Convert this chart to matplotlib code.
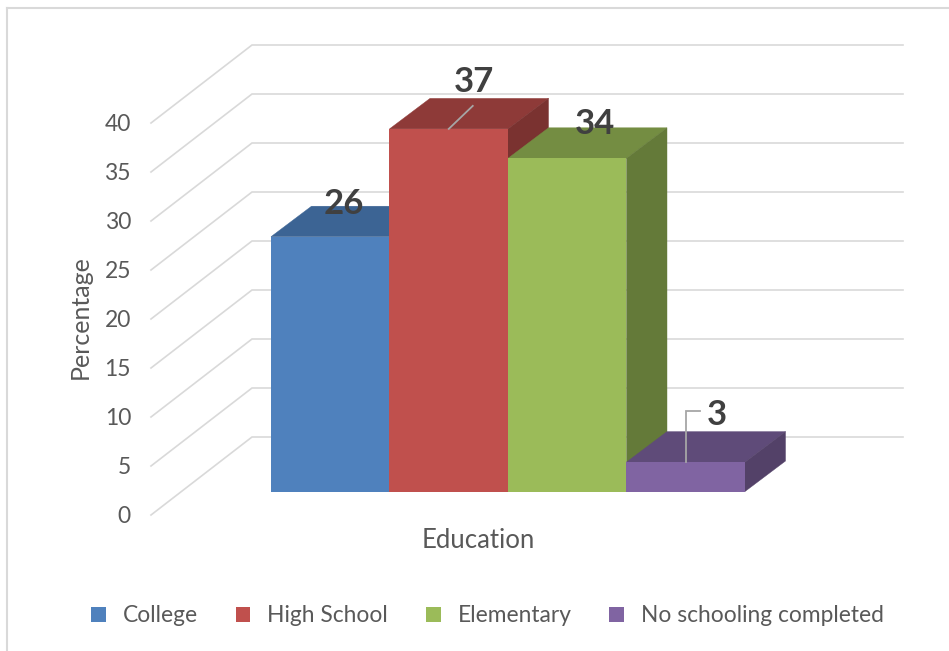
import matplotlib
matplotlib.use("Agg")
import matplotlib.pyplot as plt
from matplotlib.patches import Polygon, Patch
from matplotlib.lines import Line2D

categories = ["College", "High School", "Elementary", "No schooling completed"]
values = [26, 37, 34, 3]
y_ticks = [0, 5, 10, 15, 20, 25, 30, 35, 40]

front_colors = ["#4F81BD", "#C0504D", "#9BBB59", "#8064A2"]
top_colors = ["#3C6494", "#8E3A38", "#748D42", "#5F4B79"]
side_colors = ["#345880", "#7A3230", "#647A39", "#534168"]

W, H = 949, 651
PX_X, PX_Y = 118.5, 9.8      # pixels per bar width / per percent
X0, Y0 = 271.0, 491.5        # pixel position of the first bar's front base
TXT = "#595959"
plt.rcParams["font.family"] = ["Lato", "DejaVu Sans"]

fig = plt.figure(figsize=(W / 100, H / 100), dpi=100)
ax = fig.add_axes([0, 0, 1, 1])
ax.set_xlim(-X0 / PX_X, (W - X0) / PX_X)
ax.set_ylim(-(H - Y0) / PX_Y, Y0 / PX_Y)
ax.axis("off")


def shift(x, v, dx_px=0.0, dy_px=0.0):
    """Data point moved by a screen offset in pixels (dy up)."""
    return x + dx_px / PX_X, v + dy_px / PX_Y


# chart frame: left and top edges only
for xs, ys in [((7, 7), (651, 8)), ((7, 949), (8, 8))]:
    fig.add_artist(Line2D([x / W for x in xs], [1 - y / H for y in ys],
                          color="#D9D9D9", lw=1.5))

# gridlines: front-left diagonal, then along the back wall
for t in y_ticks:
    pts = [shift(0, t, 151 - X0, Y0 - 515), shift(0, t, 252 - X0, Y0 - 437),
           shift(0, t, 903 - X0, Y0 - 437)]
    ax.plot(*zip(*pts), color="#D9D9D9", lw=1.2, zorder=1, solid_joinstyle="miter")
    ax.annotate(str(t), xy=pts[0], xytext=(-20, -1.5), textcoords="offset pixels",
                ha="right", va="center", fontsize=16.5, color=TXT)

# bars with an oblique depth offset
DX, DY = 40.5, 30.5
for i, (v, f, t, s) in enumerate(zip(values, front_colors, top_colors, side_colors)):
    top = [(i, v), (i + 1, v), shift(i + 1, v, DX, DY), shift(i, v, DX, DY)]
    side = [(i + 1, 0), (i + 1, v), shift(i + 1, v, DX, DY), shift(i + 1, 0, DX, DY)]
    ax.add_patch(Polygon(top, fc=t, ec=t, lw=0.3, zorder=2 + i))
    ax.add_patch(Polygon(side, fc=s, ec=s, lw=0.3, zorder=2 + i))
    ax.bar(i, v, width=1, align="edge", color=f, zorder=2 + i)

# data labels
label_offsets = [(14, 33), (25, 47), (27.5, 34), (31.5, 47)]
for i, (v, (ox, oy)) in enumerate(zip(values, label_offsets)):
    ax.annotate(str(v), xy=(i + 0.5, v), xytext=(ox, oy), textcoords="offset pixels",
                ha="center", va="center", fontsize=25, fontweight="bold",
                color="#404040", zorder=10)

# leader lines
leaders = {1: [(0, 0), (24, 23)], 3: [(0, 0), (0, 51), (14, 51)]}
for i, offs in leaders.items():
    pts = [shift(i + 0.5, values[i], a, b) for a, b in offs]
    ax.plot(*zip(*pts), color="#A6A6A6", lw=1.3, zorder=9, solid_joinstyle="miter")

# axis titles
fig.text(478 / W, 1 - 540 / H, "Education", ha="center", va="center",
         fontsize=18.5, color=TXT)
fig.text(80 / W, 1 - 317 / H, "Percentage", ha="center", va="center",
         rotation=90, fontsize=18, color=TXT)

# legend
handles = [Patch(fc=c, ec="none") for c in front_colors]
fig.legend(handles, categories, ncol=4, loc="center", bbox_to_anchor=(487.5 / W, 1 - 616 / H),
           frameon=False, fontsize=16.4, labelcolor=TXT, handlelength=0.65, handleheight=0.65,
           handletextpad=0.74, columnspacing=1.66, borderpad=0, borderaxespad=0)

fig.savefig("out.png", dpi=100, facecolor="white")
